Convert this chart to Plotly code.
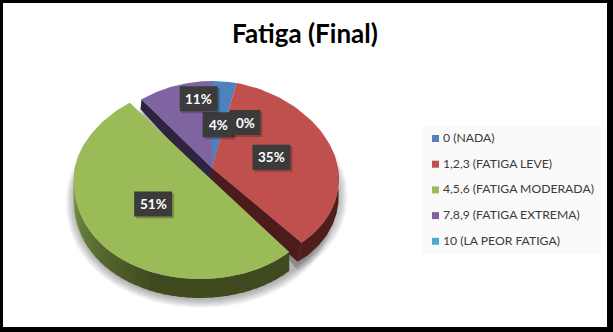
import math
import numpy as np
import plotly.graph_objects as go

# ---- data ----
categories = ["0 (NADA)", "1,2,3 (FATIGA LEVE)", "4,5,6 (FATIGA MODERADA)",
              "7,8,9 (FATIGA EXTREMA)", "10 (LA PEOR FATIGA)"]
values = [3.5, 35.1, 50.9, 10.5, 0.0]
title_text = "Fatiga (Final)"

# ---- styles and layout ----
colors = ["#4f81bd", "#c0504d", "#9bbb59", "#8064a2", "#4bacc6"]
W, H = 613, 332
FONT = "Lato, 'Open Sans', sans-serif"
PERSPECTIVE = 0.11   # the far edge of the tilted pie is narrower than the near edge
BASE = dict(cx=212, cy=168, rx=126, ry_far=87, ry_near=99)
PULLED = dict(cx=200, cy=169, rx=125.5, ry_far=84, ry_near=110)
geom = [BASE, BASE, PULLED, BASE, BASE]
DEPTH = 19
label_frac = 0.5
label_nudge = [(0, 0), (0, 0), (5, 0), (5, -28), (33, -2)]
legend_x, legend_text_x, legend_y0, legend_dy = 435.5, 443, 138.5, 25.7


def pt(g, t, dy=0.0):
    c = math.cos(t)
    ry = g["ry_far"] if c > 0 else g["ry_near"]
    return (g["cx"] + g["rx"] * math.sin(t) * (1 - PERSPECTIVE * c),
            g["cy"] - ry * c + dy)


def arc(g, a, b, dy=0.0, n=60):
    ts = np.linspace(a, b, max(2, n))
    return [pt(g, t, dy) for t in ts]


def poly(points, fill):
    xs = [p[0] for p in points] + [points[0][0]]
    ys = [p[1] for p in points] + [points[0][1]]
    return go.Scatter(x=xs, y=ys, mode="lines", fill="toself", fillcolor=fill,
                      line=dict(width=0, color=fill), hoverinfo="skip", showlegend=False)


def mix(c1, c2, f):
    a = [int(c1[i:i + 2], 16) for i in (1, 3, 5)]
    b = [int(c2[i:i + 2], 16) for i in (1, 3, 5)]
    return "rgb(%d,%d,%d)" % tuple(round(x + (y - x) * f) for x, y in zip(a, b))


total = sum(values)
cum = np.concatenate([[0], np.cumsum(values)]) / total * 2 * math.pi
start = cum[:-1]
end = cum[1:]

fig = go.Figure()

# soft drop shadow
for grow in range(9, 0, -1):
    e = dict(cx=PULLED["cx"] + 1, cy=PULLED["cy"] + DEPTH + 1, rx=PULLED["rx"] + grow,
             ry_far=PULLED["ry_far"] + grow, ry_near=PULLED["ry_near"] + grow)
    fig.add_trace(poly(arc(e, 0.5 * math.pi, 1.9 * math.pi, n=90), "rgba(0,0,0,0.035)"))
for grow in range(8, 0, -1):
    e = dict(cx=BASE["cx"] + 1, cy=BASE["cy"] + DEPTH - 2, rx=BASE["rx"] + grow,
             ry_far=BASE["ry_far"] + grow, ry_near=BASE["ry_near"] + grow)
    fig.add_trace(poly(arc(e, 0.25 * math.pi, 0.8 * math.pi, n=50) + [(BASE["cx"], BASE["cy"])],
                       "rgba(0,0,0,0.03)"))

# purple inner wall
apex = (BASE["cx"], BASE["cy"])
p_e = pt(BASE, start[3])
fig.add_trace(poly([apex, p_e, (p_e[0] - 1, p_e[1] + DEPTH - 9), (apex[0], apex[1] + DEPTH)], "#2f2340"))

# red outer side and inner wall
r_e = pt(BASE, end[1])
fig.add_trace(poly(arc(BASE, math.pi / 2, end[1]) + [(r_e[0] - 4, r_e[1] + DEPTH)]
                   + arc(BASE, end[1] - 0.02, math.pi / 2, DEPTH - 2), "#4f1d1c"))
fig.add_trace(poly([apex, r_e, (r_e[0] - 4, r_e[1] + DEPTH), (apex[0], apex[1] + DEPTH)], "#4c1b1b"))

# top faces of the base slices
for i in (3, 0, 1):
    fig.add_trace(poly([apex] + arc(geom[i], start[i], end[i]), colors[i]))

# green outer side with its shading
steps = 40
edges = np.linspace(start[2], 1.5 * math.pi, steps + 1)
for k in range(steps):
    f = (edges[k] - start[2]) / (1.5 * math.pi - start[2])
    shade = "#404a1f" if f < 0.45 else mix("#404a1f", "#7c9a48", (f - 0.45) / 0.55)
    a, b = edges[k], edges[k + 1] + 0.01
    fig.add_trace(poly(arc(PULLED, a, b, n=4) + arc(PULLED, b, a, DEPTH, n=4), shade))

# green top face
g_apex = (PULLED["cx"], PULLED["cy"])
fig.add_trace(poly([g_apex] + arc(PULLED, start[2], end[2], n=120), colors[2]))

# legend, drawn as real text beside square markers
rows = [legend_y0 + i * legend_dy for i in range(len(categories))]
fig.add_trace(go.Scatter(
    x=[legend_x] * len(categories), y=rows, mode="markers",
    marker=dict(symbol="square", size=7, color=colors), hoverinfo="skip", showlegend=False))
fig.add_trace(go.Scatter(
    x=[legend_text_x] * len(categories), y=[r + 0.5 for r in rows], mode="text", text=categories,
    textposition="middle right", textfont=dict(family=FONT, size=12.2, color="#3a3a3a"),
    hoverinfo="skip", showlegend=False))


def box(x0, x1, y0, y1, fill, layer="above"):
    return dict(type="rect", xref="x", yref="y", x0=x0, x1=x1, y0=y0, y1=y1,
                fillcolor=fill, line_width=0, layer=layer)


shapes = [
    box(422, 601, 126, 254, "#fafafa", "below"),
    box(0, W, 0, 3, "black"), box(0, 3, 0, H, "black"),
    box(607, W, 0, H, "black"), box(0, W, 327, H, "black"),
]
annotations = []
for i, v in enumerate(values):
    g = geom[i]
    mid = (start[i] + end[i]) / 2
    ax, ay = pt(g, mid)
    lx = g["cx"] + label_frac * (ax - g["cx"]) + label_nudge[i][0]
    ly = g["cy"] + label_frac * (ay - g["cy"]) + label_nudge[i][1]
    txt = "%d%%" % math.floor(v + 0.5)
    hw = 19 if len(txt) == 3 else 15.5
    hh = 12.5
    shapes.append(box(lx - hw + 2, lx + hw + 2, ly - hh + 2, ly + hh + 2, "rgba(0,0,0,0.22)"))
    shapes.append(box(lx - hw, lx + hw, ly - hh, ly + hh, "#3b3b3b"))
    annotations.append(dict(x=lx, y=ly, xref="x", yref="y", text="<b>%s</b>" % txt, showarrow=False,
                            font=dict(family=FONT, size=13.5, color="white")))

annotations.append(dict(x=305, y=33, xref="x", yref="y", text="<b>%s</b>" % title_text, showarrow=False,
                        font=dict(family=FONT, size=26, color="black")))

fig.update_layout(
    width=W, height=H, margin=dict(l=0, r=0, t=0, b=0), showlegend=False,
    paper_bgcolor="white", plot_bgcolor="white", shapes=shapes, annotations=annotations,
    xaxis=dict(range=[0, W], visible=False, fixedrange=True),
    yaxis=dict(range=[H, 0], visible=False, fixedrange=True),
)
fig.write_html("out.html", config={"displayModeBar": False},
               post_script="document.body.style.margin='0';document.documentElement.style.overflow='hidden';")
